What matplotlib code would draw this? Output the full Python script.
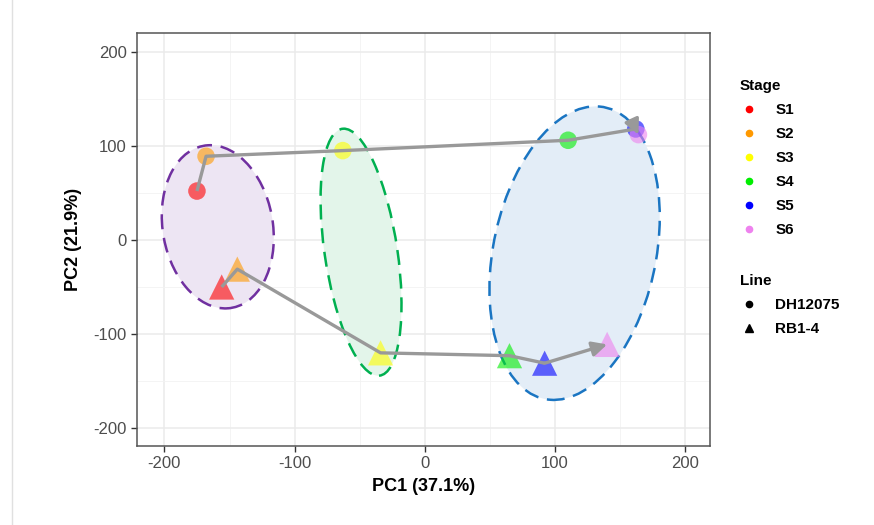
import matplotlib.pyplot as plt
from matplotlib.patches import Ellipse
from matplotlib.lines import Line2D

plt.rcParams['font.family'] = ['Liberation Sans', 'DejaVu Sans']
plt.rcParams['axes.unicode_minus'] = False

# data
stages = ['S1', 'S2', 'S3', 'S4', 'S5', 'S6']
stage_colors = ['#ff0000', '#ff9900', '#ffff00', '#00ee00', '#0000ff', '#ee82ee']

dh_pc1 = [-175, -168, -63, 110, 162, 164]
dh_pc2 = [52, 89, 95, 106, 118, 112]

rb_pc1 = [-156, -144, -34, 65, 92, 140]
rb_pc2 = [-50, -31, -120, -123, -131, -111]

# confidence ellipses: center x, center y, width, height, angle, edge colour, fill colour
ell_cx = [-159, -49, 115]
ell_cy = [14, -13, -14]
ell_w = [85, 56, 126]
ell_h = [174, 264, 314]
ell_ang = [5, 6, -7]
ell_edge = ['#7030a0', '#00b050', '#1a75c2']
ell_fill = ['#ede5f3', '#e3f5ea', '#e3edf7']

fig = plt.figure(figsize=(8.74, 5.25), dpi=100)
ax = fig.add_axes([0.1568, 0.1505, 0.6556, 0.7866])

for i in range(3):
    ax.add_patch(Ellipse((ell_cx[i], ell_cy[i]), ell_w[i], ell_h[i], angle=ell_ang[i],
                         facecolor=ell_fill[i], edgecolor='none', zorder=1))
    ax.add_patch(Ellipse((ell_cx[i], ell_cy[i]), ell_w[i], ell_h[i], angle=ell_ang[i],
                         facecolor='none', edgecolor=ell_edge[i], lw=1.8,
                         linestyle=(0, (6, 3.5)), zorder=2))

ax.scatter(dh_pc1, dh_pc2, c=stage_colors, s=160, marker='o', alpha=0.6,
           edgecolors='none', zorder=3)
ax.scatter(rb_pc1, rb_pc2, c=stage_colors, s=330, marker='^', alpha=0.6,
           edgecolors='none', zorder=3)

# trajectories with arrow on the final segment
line_col = '#999999'
for xs, ys in [(dh_pc1, dh_pc2), (rb_pc1, rb_pc2)]:
    ax.plot(xs[:-1], ys[:-1], color=line_col, lw=2.4, solid_capstyle='butt', zorder=4)
    ax.annotate('', xy=(xs[-1], ys[-1]), xytext=(xs[-2], ys[-2]),
                arrowprops=dict(arrowstyle='-|>', color=line_col, lw=2.4,
                                mutation_scale=22, shrinkA=0, shrinkB=0),
                zorder=4)

ax.set_xlim(-221, 219)
ax.set_ylim(-219, 220)
ax.set_xticks([-200, -100, 0, 100, 200])
ax.set_yticks([-200, -100, 0, 100, 200])
ax.set_xticks([-150, -50, 50, 150], minor=True)
ax.set_yticks([-150, -50, 50, 150], minor=True)
ax.grid(True, which='major', color='#ebebeb', lw=1.1, zorder=0)
ax.grid(True, which='minor', color='#f2f2f2', lw=0.6, zorder=0)
ax.set_axisbelow(True)
ax.tick_params(which='major', length=4, color='#333333', labelsize=12,
               labelcolor='#4d4d4d', width=1)
ax.tick_params(which='minor', length=0)
for sp in ax.spines.values():
    sp.set_color('#555555')
    sp.set_linewidth(1.1)

ax.set_xlabel('PC1 (37.1%)', fontsize=13, fontweight='bold', labelpad=5)
ax.set_ylabel('PC2 (21.9%)', fontsize=13, fontweight='bold', labelpad=8)

# legends
stage_handles = [Line2D([], [], marker='o', ls='none', color=c, markersize=4.5)
                 for c in stage_colors]
leg1 = fig.legend(stage_handles, stages, title='Stage', loc='upper left',
                  bbox_to_anchor=(0.831, 0.876), frameon=False,
                  prop={'weight': 'bold', 'size': 11}, handletextpad=1.1,
                  labelspacing=0.66, handlelength=1.2)
leg1.get_title().set_fontweight('bold')
leg1.get_title().set_fontsize(11)
leg1._legend_box.align = 'left'

line_handles = [Line2D([], [], marker='o', ls='none', color='black', markersize=4.5),
                Line2D([], [], marker='^', ls='none', color='black', markersize=5.5)]
leg2 = fig.legend(line_handles, ['DH12075', 'RB1-4'], title='Line', loc='upper left',
                  bbox_to_anchor=(0.831, 0.504), frameon=False,
                  prop={'weight': 'bold', 'size': 11}, handletextpad=1.1,
                  labelspacing=0.66, handlelength=1.2)
leg2.get_title().set_fontweight('bold')
leg2.get_title().set_fontsize(11)
leg2._legend_box.align = 'left'

# faint frame line at the left edge of the screenshot
fig.add_artist(Line2D([0.014, 0.014], [0, 1], color='#e0e0e0', lw=1))

fig.savefig('out.png', dpi=100)
